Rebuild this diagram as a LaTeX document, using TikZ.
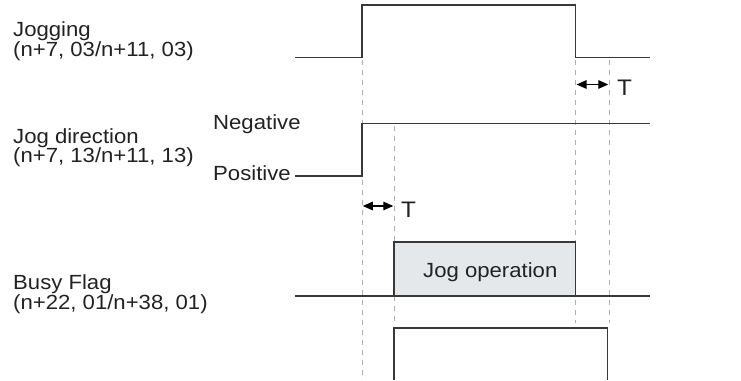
\documentclass[tikz,border=0pt]{standalone}
\usepackage{fontspec}
\setmainfont{Liberation Sans}[FakeStretch=1.08]
\usetikzlibrary{arrows.meta}
\definecolor{sigc}{HTML}{383838}
\definecolor{guidec}{HTML}{ABAFB3}
\definecolor{txtc}{HTML}{222222}
\definecolor{boxc}{HTML}{E5E8EB}
\begin{document}
\begin{tikzpicture}[x=1pt,y=-1pt,
  sig/.style={draw=sigc, line width=1.4pt, line join=miter},
  guide/.style={draw=guidec, line width=1pt, dash pattern=on 5pt off 5pt},
  lbl/.style={anchor=base west, inner sep=0pt, text=txtc, font=\fontsize{20.5}{20.5}\selectfont},
  tlbl/.style={anchor=base west, inner sep=0pt, text=txtc, font=\fontsize{22.5}{22.5}\selectfont},
  tarrow/.style={{Triangle[length=10pt,width=8.5pt]}-{Triangle[length=10pt,width=8.5pt]}, line width=1.3pt, draw=black}]
\useasboundingbox (0,0) rectangle (741,380);
% guide lines
\coordinate (g1a) at (362,60);   \coordinate (g1b) at (362,380);
\coordinate (g2a) at (394,126);  \coordinate (g2b) at (394,323);
\coordinate (g3a) at (575.7,60); \coordinate (g3b) at (575.7,323);
\coordinate (g4a) at (609,60);   \coordinate (g4b) at (609,323);
\draw[guide] (g1a) -- (g1b);
\draw[guide] (g2a) -- (g2b);
\draw[guide] (g3a) -- (g3b);
\draw[guide] (g4a) -- (g4b);
% busy box fill
\coordinate (bx1) at (394,296);
\coordinate (bx2) at (575.7,242);
\draw[sig, fill=boxc] (bx1) rectangle (bx2);
% Jogging signal
\coordinate (j0) at (295,57.3);
\coordinate (j1) at (362,57.3);
\coordinate (j2) at (362,5);
\coordinate (j3) at (575.7,5);
\coordinate (j4) at (575.7,57.3);
\coordinate (j5) at (650,57.3);
\draw[sig] (j0) -- (j1) -- (j2) -- (j3) -- (j4) -- (j5);
% Jog direction signal
\coordinate (d0) at (295,176);
\coordinate (d1) at (362,176);
\coordinate (d2) at (362,123.5);
\coordinate (d3) at (650,123.5);
\draw[sig] (d0) -- (d1) -- (d2) -- (d3);
% Busy flag line
\coordinate (b0) at (295,296);
\coordinate (b1) at (650,296);
\draw[sig] (b0) -- (b1);
% bottom pulse
\coordinate (p0) at (394,380);
\coordinate (p1) at (394,328);
\coordinate (p2) at (607.7,328);
\coordinate (p3) at (607.7,380);
\draw[sig] (p0) -- (p1) -- (p2) -- (p3);
% T arrows
\coordinate (ta1) at (576.5,84.5);
\coordinate (ta2) at (608.3,84.5);
\coordinate (tb1) at (362.8,206);
\coordinate (tb2) at (393.3,206);
\draw[tarrow] (ta1) -- (ta2);
\draw[tarrow] (tb1) -- (tb2);
% labels
\node[lbl] (jog1) at (13,36.7) {Jogging};
\node[lbl] (jog2) at (13,56) {(n+7, 03/n+11, 03)};
\node[lbl] (dir1) at (13,143) {Jog direction};
\node[lbl] (dir2) at (13,162.5) {(n+7, 13/n+11, 13)};
\node[lbl] (busy1) at (13,289.3) {Busy Flag};
\node[lbl] (busy2) at (13,309) {(n+22, 01/n+38, 01)};
\node[lbl] (neg) at (213,129.3) {Negative};
\node[lbl] (pos) at (213,180) {Positive};
\node[lbl] (jop) at (423,277.3) {Jog operation};
\node[tlbl] (tup) at (617,95.5) {T};
\node[tlbl] (tlo) at (401,217) {T};
\end{tikzpicture}
\end{document}
